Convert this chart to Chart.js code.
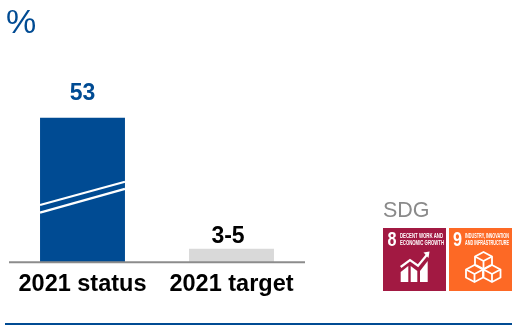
<!DOCTYPE html>
<html>
<head>
<meta charset="utf-8">
<style>
  html, body { margin: 0; padding: 0; background: #fff; }
  #wrap { position: relative; width: 512px; height: 325px; overflow: hidden; }
  #wrap canvas { position: absolute; left: 0; top: 0; }
  #unit { position: absolute; left: 6px; top: 2px; font: 34px "Liberation Sans", Arial, sans-serif; color: #004b93; line-height: 38px; }
  #sdg { position: absolute; left: 383px; top: 198px; font: 21.5px "Liberation Sans", Arial, sans-serif; color: #8a8a8a; line-height: 24px; }
  #rule { position: absolute; left: 5px; right: 0; top: 323px; height: 2px; background: #004b93; }
  #icons { position: absolute; left: 0; top: 0; }
</style>
<script src="https://cdn.jsdelivr.net/npm/chart.js@4"></script>
</head>
<body>
<div id="wrap">
  <canvas id="chart" width="512" height="325"></canvas>
  <div id="unit">%</div>
  <div id="sdg">SDG</div>
  <div id="rule"></div>
  <svg id="icons" width="512" height="325" xmlns="http://www.w3.org/2000/svg">
    <!-- Goal 8 tile -->
    <rect x="383" y="228" width="63" height="63" fill="#a21942"/>
    <text x="387.500" y="246" font-family="Liberation Sans" font-weight="700" font-size="20" fill="#fff" textLength="9" lengthAdjust="spacingAndGlyphs">8</text>
    <g font-family="Liberation Sans" font-weight="700" font-size="6.400" fill="#fff">
      <text x="400" y="237.500" textLength="43" lengthAdjust="spacingAndGlyphs">DECENT WORK AND</text>
      <text x="400" y="245" textLength="44" lengthAdjust="spacingAndGlyphs">ECONOMIC GROWTH</text>
    </g>
    <g fill="#fff">
      <path d="M400.700 282v-10l7.600-6v16z"/>
      <path d="M410.700 282v-16l6.600 5v11z"/>
      <path d="M420 282v-11l7.700-10v21z"/>
    </g>
    <path d="M400.700 267l9.300-7 8 5.700 9-11" fill="none" stroke="#fff" stroke-width="2.200"/>
    <path d="M423.500 252.500l6-1-1 6.500z" fill="#fff"/>
    <!-- Goal 9 tile -->
    <rect x="449" y="228" width="63" height="63" fill="#fd6925"/>
    <text x="453" y="246" font-family="Liberation Sans" font-weight="700" font-size="20" fill="#fff" textLength="9" lengthAdjust="spacingAndGlyphs">9</text>
    <g font-family="Liberation Sans" font-weight="700" font-size="6.400" fill="#fff">
      <text x="465" y="237.500" textLength="44" lengthAdjust="spacingAndGlyphs">INDUSTRY, INNOVATION</text>
      <text x="465" y="245" textLength="44" lengthAdjust="spacingAndGlyphs">AND INFRASTRUCTURE</text>
    </g>
    <g fill="none" stroke="#fff" stroke-width="1.800" stroke-linejoin="round">
      <path d="M483.500 252l8.500 4.500v8l-8.500 4.500-8.500-4.500v-8z"/>
      <path d="M475 256.500l8.500 4.500 8.500-4.500M483.500 261v8"/>
      <path d="M474.500 265l8.500 4.500v8l-8.500 4.500-8.500-4.500v-8z"/>
      <path d="M466 269.500l8.500 4.500 8.500-4.500M474.500 274v8"/>
      <path d="M492 265l8.500 4.500v8l-8.500 4.500-8.500-4.500v-8z"/>
      <path d="M483.500 269.500l8.500 4.500 8.500-4.500M492 274v8"/>
    </g>
  </svg>
</div>
<script>
  // Chart contents
  const categories = ['2021 status', '2021 target'];
  const barValues = [53, 5];
  const valueLabels = ['53', '3-5'];
  const barColors = ['#004b93', '#d9d9d9'];
  const labelColors = ['#004b93', '#000000'];

  // Where each value label sits relative to the top of its bar
  const labelLift = [18, 6];
  const labelShift = [0, -3.5];

  // Two white slanted strokes across the first bar, marking the broken column
  const breakMarks = [
    { low: 21, high: 29.500 },
    { low: 18.200, high: 26.900 }
  ];

  const barDecorations = {
    id: 'barDecorations',
    afterDatasetsDraw(chart) {
      const { ctx, scales, chartArea } = chart;
      const bars = chart.getDatasetMeta(0).data;
      const first = bars[0];
      const half = first.width / 2;
      ctx.save();
      ctx.strokeStyle = '#ffffff';
      ctx.lineWidth = 2.2;
      breakMarks.forEach(m => {
        ctx.beginPath();
        ctx.moveTo(first.x - half, scales.y.getPixelForValue(m.low));
        ctx.lineTo(first.x + half, scales.y.getPixelForValue(m.high));
        ctx.stroke();
      });

      // Baseline, slightly inset from the plot edges
      const base = scales.y.getPixelForValue(0);
      ctx.strokeStyle = '#8c8c8c';
      ctx.lineWidth = 2;
      ctx.beginPath();
      ctx.moveTo(chartArea.left + 1, base);
      ctx.lineTo(chartArea.right - 1, base);
      ctx.stroke();

      ctx.font = '700 23px "Liberation Sans", Arial, sans-serif';
      ctx.textAlign = 'center';
      ctx.textBaseline = 'alphabetic';
      bars.forEach((bar, i) => {
        ctx.fillStyle = labelColors[i];
        ctx.fillText(valueLabels[i], bar.x + labelShift[i], bar.y - labelLift[i]);
      });
      ctx.restore();
    }
  };

  new Chart(document.getElementById('chart'), {
    type: 'bar',
    data: {
      labels: categories,
      datasets: [{
        data: barValues,
        backgroundColor: barColors,
        borderWidth: 0,
        categoryPercentage: 1,
        barPercentage: 0.57
      }]
    },
    options: {
      responsive: false,
      animation: false,
      layout: { padding: { left: 8, right: 206, top: 44, bottom: 18.5 } },
      plugins: { legend: { display: false }, tooltip: { enabled: false } },
      scales: {
        x: {
          grid: { display: false, drawTicks: false },
          border: { display: false },
          ticks: {
            color: '#000000',
            padding: 8,
            maxRotation: 0,
            font: { family: '"Liberation Sans", Arial, sans-serif', size: 23.5, weight: '700' }
          }
        },
        y: { display: false, min: 0, max: 80 }
      }
    },
    plugins: [barDecorations]
  });
</script>
</body>
</html>
